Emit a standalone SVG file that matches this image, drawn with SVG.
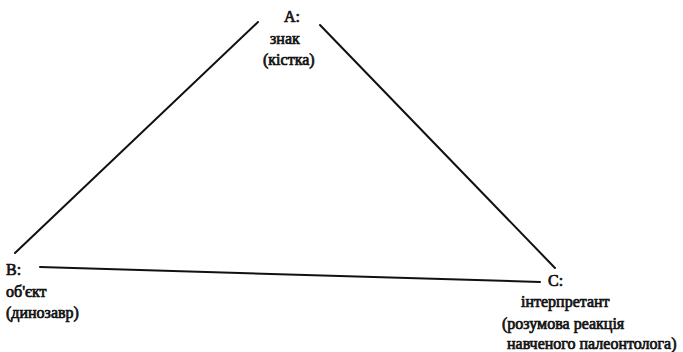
<svg xmlns="http://www.w3.org/2000/svg" width="683" height="352" viewBox="0 0 683 352">
<style>
text{font-family:"Liberation Serif","Times New Roman",serif;font-size:16px;font-weight:normal;fill:#111;stroke:#111;stroke-width:0.7}
.ln{stroke:#111;stroke-width:2;fill:none;stroke-linecap:round}
</style>
<rect width="683" height="352" fill="#fff"/>
<g id="connectors">
<line class="ln" x1="258" y1="22" x2="15" y2="253"/>
<line class="ln" x1="320" y1="25" x2="555" y2="268"/>
<line class="ln" x1="40" y1="267" x2="540" y2="282"/>
</g>
<g id="nodeA">
<text x="284" y="22">A:</text>
<text x="270" y="44">знак</text>
<text x="263" y="65">(кістка)</text>
</g>
<g id="nodeB">
<text x="6" y="275">B:</text>
<text x="6" y="297">об'єкт</text>
<text x="6" y="318">(динозавр)</text>
</g>
<g id="nodeC">
<text x="548" y="286">C:</text>
<text x="521" y="307">інтерпретант</text>
<text x="502" y="329">(розумова реакція</text>
<text x="507" y="349">навченого палеонтолога)</text>
</g>
</svg>
